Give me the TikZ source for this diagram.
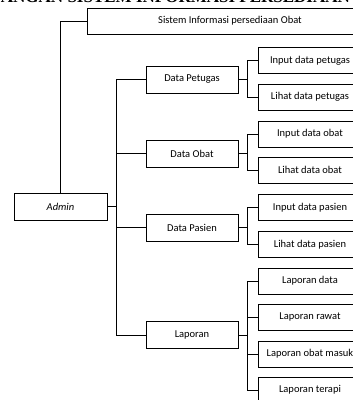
\documentclass[tikz,border=0pt]{standalone}
\usepackage{fontspec}
\setmainfont{Carlito}
\newfontfamily\headfont{Liberation Serif}
\begin{document}
\begin{tikzpicture}[x=1pt,y=1pt,
  box/.style={draw=black, line width=0.8pt, fill=white, inner sep=0pt,
    font=\fontsize{10.5}{12}\selectfont},
  l2box/.style={box, minimum width=92, minimum height=27},
  leafbox/.style={box, minimum width=104, minimum height=26},
  link/.style={draw=black, line width=0.8pt}]
\clip (0,0) rectangle (353,-400);
\fill[white] (0,0) rectangle (353,-400);

% heading of the page, cut by the top edge
\node[anchor=base, inner sep=0pt, font=\headfont\bfseries\fontsize{17}{20}\selectfont]
  (head) at (176.5,-2.5) {RANCANGAN SISTEM INFORMASI PERSEDIAAN OBAT};

% top and root
\node[box, minimum width=286, minimum height=26] (sis) at (230,-21) {Sistem Informasi persediaan Obat};
\node[box, minimum width=93, minimum height=27, font=\itshape\fontsize{10.5}{12}\selectfont] (admin) at (60.5,-206.5) {Admin};

% second level
\node[l2box] (pet) at (192,-79.5) {Data Petugas};
\node[l2box] (obt) at (192,-153.5) {Data Obat};
\node[l2box] (pas) at (192,-227.5) {Data Pasien};
\node[l2box] (lap) at (192,-335) {Laporan};

% leaves
\node[leafbox] (ipet) at (310,-60.5) {Input data petugas};
\node[leafbox] (lpet) at (310,-97) {Lihat data petugas};
\node[leafbox] (iobt) at (310,-134) {Input data obat};
\node[leafbox] (lobt) at (310,-170) {Lihat data obat};
\node[leafbox] (ipas) at (310,-207.5) {Input data pasien};
\node[leafbox] (lpas) at (310,-244.5) {Lihat data pasien};
\node[leafbox] (lda) at (310,-281) {Laporan data};
\node[leafbox] (lra) at (310,-317) {Laporan rawat};
\node[leafbox] (lom) at (310,-354) {Laporan obat masuk};
\node[leafbox] (lte) at (310,-390) {Laporan terapi};

% root connectors
\draw[link] (sis.west) -| (admin.north);
\coordinate (trunk) at (117,-206.5);
\draw[link, line width=1.4pt] (admin.east) -- (trunk);
\draw[link] (pet.west) -- ++(-29,0) |- (lap.west);
\draw[link] (obt.west) -- ++(-29,0);
\draw[link] (pas.west) -- ++(-29,0);

% branch connectors
\draw[link] (pet.east) -- ++(10,0);
\draw[link] (ipet.west) -- ++(-10,0) |- (lpet.west);
\draw[link] (obt.east) -- ++(10,0);
\draw[link] (iobt.west) -- ++(-10,0) |- (lobt.west);
\draw[link] (pas.east) -- ++(10,0);
\draw[link] (ipas.west) -- ++(-10,0) |- (lpas.west);
\draw[link] (lap.east) -- ++(10,0);
\draw[link] (lda.west) -- ++(-10,0) |- (lte.west);
\draw[link] (lra.west) -- ++(-10,0);
\draw[link] (lom.west) -- ++(-10,0);
\end{tikzpicture}
\end{document}
